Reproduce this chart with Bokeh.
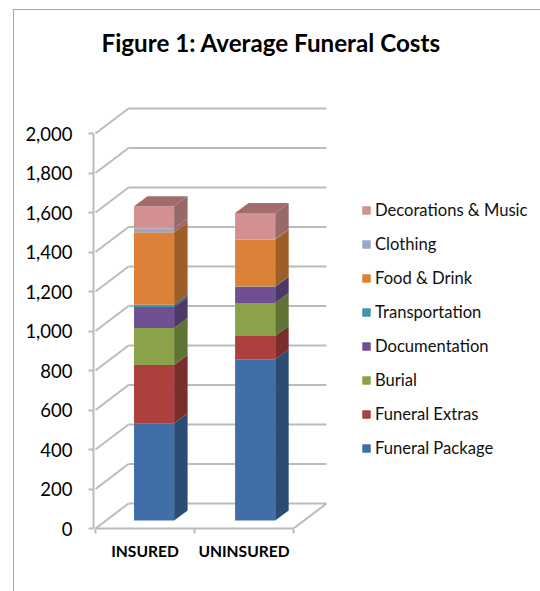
from bokeh.embed import file_html
from bokeh.models import FixedTicker, InlineStyleSheet, Legend, LegendItem, NumeralTickFormatter, Range1d
from bokeh.plotting import figure
from bokeh.resources import INLINE

# Cost components in stacking order, bottom to top
categories = ["INSURED", "UNINSURED"]
components = ["Funeral Package", "Funeral Extras", "Burial", "Documentation",
              "Transportation", "Food & Drink", "Clothing", "Decorations & Music"]
insured = [492, 295, 188, 106, 12, 366, 20, 112]
uninsured = [817, 117, 167, 82, 2, 238, 2, 132]
front_colors = ["#3F6FA6", "#AD403D", "#8AA34B", "#6F5191", "#3E97AE", "#DC8138", "#93A9CF", "#D29090"]
side_colors = ["#2B4D75", "#7A2E2C", "#5F7434", "#4D3866", "#2B6A7B", "#9E5E28", "#976969", "#976969"]
top_color = "#A26B6C"
y_ticks = [0, 200, 400, 600, 800, 1000, 1200, 1400, 1600, 1800, 2000]

WIDTH, HEIGHT = 540, 591
FRAME_LEFT, FRAME_TOP, FRAME_BOTTOM = 93, 60, 528
PX_PER_VALUE = 0.1975
PX_PER_CATEGORY = 99
ORIGIN_X = 95
GRID = "#BBBBBB"
FONT = "Lato"

# Pseudo-3D offsets expressed in axis units
wall_dx, wall_dy = 33 / PX_PER_CATEGORY, 25 / PX_PER_VALUE
bar_dx, bar_dy = 13.5 / PX_PER_CATEGORY, 10 / PX_PER_VALUE
bar_floor = 8 / PX_PER_VALUE
bar_left = [0.389, 1.41]
bar_width = 0.405

# Chart area border along the top and left of the page
border = InlineStyleSheet(css="""
:host::after {
  content: ""; position: absolute; left: 13px; top: 9px; right: 0; bottom: 0;
  border-left: 1.5px solid #A6A6A6; border-top: 1.5px solid #A6A6A6;
  pointer-events: none;
}
""")

p = figure(
    width=WIDTH, height=HEIGHT, output_backend="svg", toolbar_location=None,
    x_range=Range1d((FRAME_LEFT - ORIGIN_X) / PX_PER_CATEGORY, (WIDTH - ORIGIN_X) / PX_PER_CATEGORY),
    y_range=Range1d(0, (FRAME_BOTTOM - FRAME_TOP) / PX_PER_VALUE),
    min_border_left=FRAME_LEFT, min_border_right=0,
    min_border_top=FRAME_TOP, min_border_bottom=HEIGHT - FRAME_BOTTOM,
    title="Figure 1: Average Funeral Costs",
    stylesheets=[border],
)
p.outline_line_color = None
p.grid.visible = False
p.title.text_font = FONT
p.title.text_font_size = "24.2px"
p.title.text_font_style = "bold"
p.title.text_color = "#000000"
p.title.align = "left"
p.title.offset = 8
p.title.standoff = 7

# Axes
p.yaxis.ticker = FixedTicker(ticks=y_ticks)
p.yaxis.formatter = NumeralTickFormatter(format="0,0")
p.yaxis.bounds = (0, 2000)
p.yaxis.major_label_text_font = FONT
p.yaxis.major_label_text_font_size = "18.5px"
p.yaxis.major_label_text_color = "#000000"
p.yaxis.major_label_standoff = 16
p.yaxis.major_tick_in = 0
p.yaxis.major_tick_out = 5
p.yaxis.minor_tick_line_color = None
p.yaxis.axis_line_color = GRID
p.yaxis.axis_line_width = 2
p.yaxis.major_tick_line_color = GRID
p.yaxis.major_tick_line_width = 2

p.xaxis.ticker = FixedTicker(ticks=[0.5, 1.5], minor_ticks=[0, 1, 2])
p.xaxis.major_label_overrides = {0.5: categories[0], 1.5: categories[1]}
p.xaxis.bounds = (0, 2)
p.xaxis.major_label_text_font = FONT
p.xaxis.major_label_text_font_size = "15.6px"
p.xaxis.major_label_text_font_style = "bold"
p.xaxis.major_label_text_color = "#000000"
p.xaxis.major_label_standoff = 8
p.xaxis.major_tick_in = 0
p.xaxis.major_tick_out = 0
p.xaxis.minor_tick_in = 0
p.xaxis.minor_tick_out = 5
p.xaxis.axis_line_color = GRID
p.xaxis.axis_line_width = 2
p.xaxis.minor_tick_line_color = GRID
p.xaxis.minor_tick_line_width = 2

# Back wall, left wall and floor rules
p.segment(x0=[wall_dx] * len(y_ticks), y0=[v + wall_dy for v in y_ticks],
          x1=[2 + wall_dx] * len(y_ticks), y1=[v + wall_dy for v in y_ticks],
          line_color=GRID, line_width=2)
p.segment(x0=[0] * len(y_ticks), y0=y_ticks,
          x1=[wall_dx] * len(y_ticks), y1=[v + wall_dy for v in y_ticks],
          line_color=GRID, line_width=2)
p.segment(x0=[2], y0=[0], x1=[2 + wall_dx], y1=[wall_dy], line_color=GRID, line_width=2)

# Stacked columns: front face, right side face, and a lid on the last segment
legend_items = {}
for left, values in zip(bar_left, [insured, uninsured]):
    right = left + bar_width
    level = bar_floor
    for name, value, front, side in zip(components, values, front_colors, side_colors):
        bottom, level = level, level + value
        p.patch([right, right + bar_dx, right + bar_dx, right],
                [bottom, bottom + bar_dy, level + bar_dy, level],
                fill_color=side, line_color=None)
        legend_items.setdefault(name, []).append(
            p.quad(left=[left], right=[right], bottom=[bottom], top=[level],
                   fill_color=front, line_color=None))
    p.patch([left, left + bar_dx, right + bar_dx, right],
            [level, level + bar_dy, level + bar_dy, level],
            fill_color=top_color, line_color=None)

legend = Legend(
    items=[LegendItem(label=name, renderers=legend_items[name]) for name in reversed(components)],
    location=(361 - FRAME_LEFT, FRAME_BOTTOM - 458),
    orientation="vertical", background_fill_alpha=0, border_line_color=None,
    padding=0, margin=0, spacing=14, glyph_width=10, glyph_height=10,
    label_height=20, label_standoff=4,
    label_text_font=FONT, label_text_font_size="16.6px", label_text_color="#111111",
)
p.add_layout(legend, "center")

open("out.html", "w").write(file_html(p, INLINE))
